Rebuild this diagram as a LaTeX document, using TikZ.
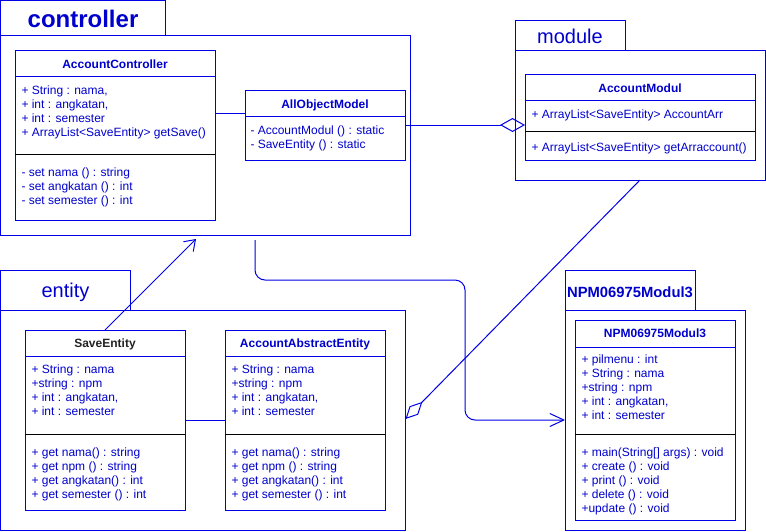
\documentclass[tikz,border=0pt]{standalone}
\usepackage{fontspec}
\setmainfont{Liberation Sans}
\usetikzlibrary{arrows.meta}
\definecolor{ln}{RGB}{0,0,230}
\definecolor{tx}{RGB}{0,0,204}
\definecolor{dk}{RGB}{34,34,34}
\begin{document}
\begin{tikzpicture}[x=1pt,y=-1pt,line width=1pt,
  box/.style={draw=ln,anchor=north west,inner sep=0pt,outer sep=0pt},
  txt/.style={anchor=base west,inner sep=0pt,text=tx,font=\fontsize{12}{14}\selectfont},
  hdr/.style={anchor=base,inner sep=0pt,text=tx,font=\bfseries\fontsize{12}{14}\selectfont},
  ptitle/.style={anchor=base,inner sep=0pt,text=tx},
  conn/.style={draw=ln,line width=1pt},
  sep/.style={draw=black,line width=1pt},
  hsep/.style={draw=ln,line width=1pt}]
\useasboundingbox (0,0) rectangle (766,531);

% ---------- packages ----------
\node[box,minimum width=165pt,minimum height=35pt] (ctrltab) at (0.5,0.5) {};
\node[box,minimum width=410pt,minimum height=200pt] (ctrl) at (0.5,35) {};
\node[ptitle,font=\bfseries\fontsize{24}{28}\selectfont] (ctrlt) at (83,27.5) {controller};

\node[box,minimum width=110pt,minimum height=30pt] (modtab) at (515,20) {};
\node[box,minimum width=250pt,minimum height=130pt] (mod) at (515,50) {};
\node[ptitle,font=\fontsize{20}{24}\selectfont] (modt) at (570,43) {module};

\node[box,minimum width=130pt,minimum height=40pt] (enttab) at (0.5,270) {};
\node[box,minimum width=405pt,minimum height=220pt] (ent) at (0.5,310) {};
\node[ptitle,font=\fontsize{20}{24}\selectfont] (entt) at (65.5,297.5) {entity};

\node[box,minimum width=130pt,minimum height=40pt] (npmtab) at (565,270) {};
\node[box,minimum width=180pt,minimum height=220pt] (npm) at (565,310) {};
\node[ptitle,font=\bfseries\fontsize{14.8}{18}\selectfont] (npmt) at (630,297) {NPM06975Modul3};

% ---------- AccountController ----------
\node[box,minimum width=200pt,minimum height=170pt] (ac) at (15,50) {};
\draw[hsep] (15,76) -- (215,76);
\draw[sep] (15,154) -- (215,154);
\node[hdr] (ach) at (115,68) {AccountController};
\node[txt] (ac1) at (21,94) {+ String : nama,};
\node[txt] (ac2) at (21,108) {+ int : angkatan,};
\node[txt] (ac3) at (21,122) {+ int : semester};
\node[txt] (ac4) at (21,136) {+ ArrayList<SaveEntity> getSave()};
\node[txt] (ac5) at (21,176) {- set nama () : string};
\node[txt] (ac6) at (21,190) {- set angkatan () : int};
\node[txt] (ac7) at (21,204) {- set semester () : int};

% ---------- AllObjectModel ----------
\node[box,minimum width=160pt,minimum height=70pt] (aom) at (245,90) {};
\draw[hsep] (245,116) -- (405,116);
\node[hdr] (aomh) at (325,108) {AllObjectModel};
\node[txt] (aom1) at (250,134) {- AccountModul () : static};
\node[txt] (aom2) at (250,148) {- SaveEntity () : static};

% ---------- AccountModul ----------
\node[box,minimum width=230pt,minimum height=86pt] (am) at (525,74) {};
\draw[hsep] (525,100) -- (755,100);
\draw[sep] (525,131) -- (755,131);
\node[hdr] (amh) at (640,92) {AccountModul};
\node[txt] (am1) at (531,118) {+ ArrayList<SaveEntity> AccountArr};
\node[txt] (am2) at (531,151) {+ ArrayList<SaveEntity> getArraccount()};

% ---------- SaveEntity ----------
\node[box,minimum width=160pt,minimum height=180pt] (se) at (25,330) {};
\draw[hsep] (25,356) -- (185,356);
\draw[sep] (25,434) -- (185,434);
\node[hdr,text=dk] (seh) at (105,347.5) {SaveEntity};
\node[txt] (se1) at (31,373) {+ String : nama};
\node[txt] (se2) at (31,387) {+string : npm};
\node[txt] (se3) at (31,401) {+ int : angkatan,};
\node[txt] (se4) at (31,415) {+ int : semester};
\node[txt] (se5) at (31,456) {+ get nama() : string};
\node[txt] (se6) at (31,470) {+ get npm () : string};
\node[txt] (se7) at (31,484) {+ get angkatan() : int};
\node[txt] (se8) at (31,498) {+ get semester () : int};

% ---------- AccountAbstractEntity ----------
\node[box,minimum width=160pt,minimum height=180pt] (aae) at (225,330) {};
\draw[hsep] (225,356) -- (385,356);
\draw[sep] (225,434) -- (385,434);
\node[hdr] (aaeh) at (305,347.5) {AccountAbstractEntity};
\node[txt] (aae1) at (231,373) {+ String : nama};
\node[txt] (aae2) at (231,387) {+string : npm};
\node[txt] (aae3) at (231,401) {+ int : angkatan,};
\node[txt] (aae4) at (231,415) {+ int : semester};
\node[txt] (aae5) at (231,456) {+ get nama() : string};
\node[txt] (aae6) at (231,470) {+ get npm () : string};
\node[txt] (aae7) at (231,484) {+ get angkatan() : int};
\node[txt] (aae8) at (231,498) {+ get semester () : int};

% ---------- NPM06975Modul3 class ----------
\node[box,minimum width=160pt,minimum height=200pt] (nc) at (575,320) {};
\draw[hsep] (575,347) -- (735,347);
\draw[sep] (575,434) -- (735,434);
\node[hdr] (nch) at (655,337.5) {NPM06975Modul3};
\node[txt] (nc1) at (581,363) {+ pilmenu : int};
\node[txt] (nc2) at (581,377) {+ String : nama};
\node[txt] (nc3) at (581,391) {+string : npm};
\node[txt] (nc4) at (581,405) {+ int : angkatan,};
\node[txt] (nc5) at (581,419) {+ int : semester};
\node[txt] (nc6) at (581,456) {+ main(String[] args) : void};
\node[txt] (nc7) at (581,470) {+ create () : void};
\node[txt] (nc8) at (581,484) {+ print () : void};
\node[txt] (nc9) at (581,498) {+ delete () : void};
\node[txt] (nc10) at (581,512) {+update () : void};

% ---------- connectors ----------
\coordinate (c1) at (0,113);
\draw[conn] (ac.east |- c1) -- (aom.west |- c1);

\draw[conn,-{Diamond[open,length=25pt,width=14pt]}] (aom.east) -- (am.west |- aom.east);

\coordinate (c2) at (640,0);
\coordinate (c3) at (0,419);
\draw[conn,-{Diamond[open,length=24pt,width=12pt]}] (mod.south -| c2) -- (ent.east |- c3);

\coordinate (c4) at (196,239);
\draw[conn,-{Straight Barb[length=10pt,width=14pt]}] (se.north) -- (c4);

\coordinate (o1) at (255,240);
\coordinate (o2) at (465,280);
\coordinate (o3) at (0,420);
\draw[conn,rounded corners=10pt,-{Straight Barb[length=14pt,width=13pt]}] (o1) |- (o2) |- (npm.west |- o3);

\coordinate (c5) at (0,420);
\draw[conn] (se.east |- c5) -- (aae.west |- c5);
\end{tikzpicture}
\end{document}
